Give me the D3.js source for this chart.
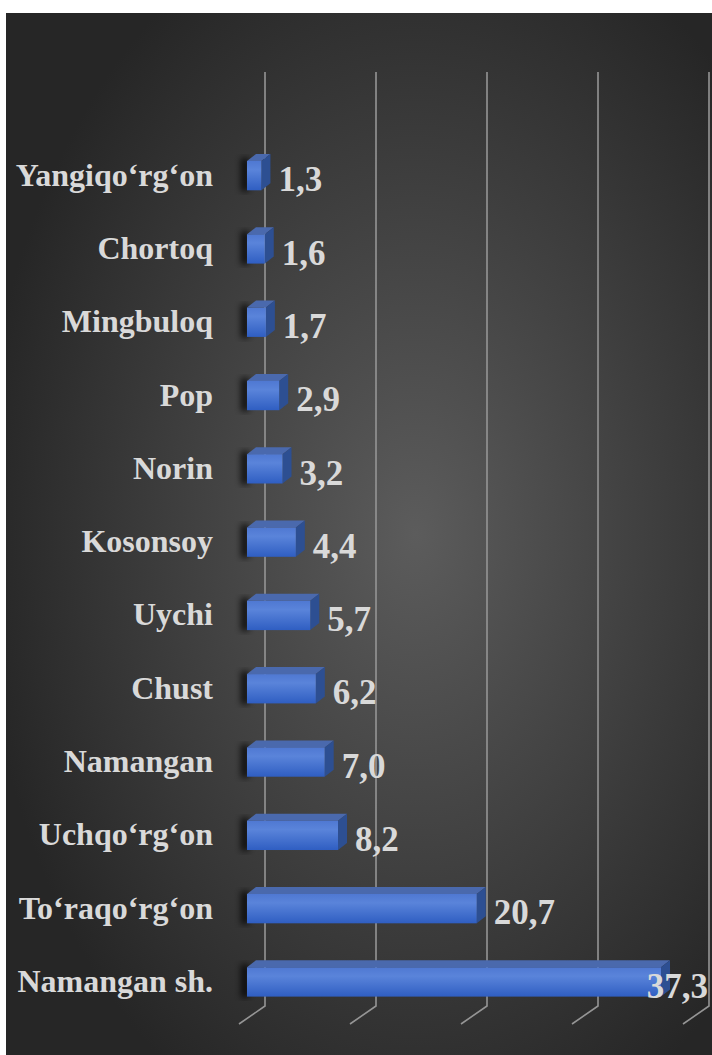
<!DOCTYPE html>
<html>
<head>
<meta charset="utf-8">
<script src="https://cdn.jsdelivr.net/npm/d3@7"></script>
<style>
  body { margin: 0; background: #fff; }
</style>
</head>
<body>
<div id="chart-area"></div>
<script>
// Data
const districts = ["Yangiqo‘rg‘on", "Chortoq", "Mingbuloq", "Pop", "Norin", "Kosonsoy",
    "Uychi", "Chust", "Namangan", "Uchqo‘rg‘on", "To‘raqo‘rg‘on", "Namangan sh."]
const shares = [1.3, 1.6, 1.7, 2.9, 3.2, 4.4, 5.7, 6.2, 7.0, 8.2, 20.7, 37.3]
const gridTicks = [0, 10, 20, 30, 40]

const W = 712, H = 1055
const frontX = 247          // front face of bars
const backX = 265           // back wall where gridlines stand
const depth = {dx: 9, dy: -7}
const floorY = 1006
const serif = '"Liberation Serif"'

const svg = d3.select("#chart-area").append("svg")
    .attr("width", W)
    .attr("height", H)

const defs = svg.append("defs")

const bg = defs.append("radialGradient")
    .attr("id", "bg")
    .attr("cx", "58%").attr("cy", "50%").attr("r", "62%")
bg.append("stop").attr("offset", "0%").attr("stop-color", "#5c5c5c")
bg.append("stop").attr("offset", "100%").attr("stop-color", "#262626")

const front = defs.append("linearGradient")
    .attr("id", "front")
    .attr("x1", 0).attr("y1", 0).attr("x2", 0).attr("y2", 1)
front.append("stop").attr("offset", "0%").attr("stop-color", "#4f78d2")
front.append("stop").attr("offset", "30%").attr("stop-color", "#5a84da")
front.append("stop").attr("offset", "100%").attr("stop-color", "#2f5ec2")

defs.append("filter")
    .attr("id", "blur")
    .attr("x", "-100%").attr("width", "300%")
    .append("feGaussianBlur")
    .attr("stdDeviation", 3)

svg.append("rect")
    .attr("x", 6).attr("y", 13)
    .attr("width", W - 6).attr("height", H - 13)
    .attr("fill", "url(#bg)")

// Scales
const x = d3.scaleLinear().domain([0, 40]).range([0, 444])
const y = d3.scaleBand()
    .domain(districts)
    .range([117, 1040.6])
    .padding(0.6)
const bw = y.bandwidth()

// Gridlines (back wall + floor)
const grid = svg.append("g")
gridTicks.forEach(t => {
    const gx = backX + x(t)
    grid.append("path")
        .attr("d", `M${gx},72 L${gx},${floorY} L${gx - 26},${floorY + 18}`)
        .attr("fill", "none")
        .attr("stroke", "#959595")
        .attr("stroke-width", 1.6)
})

// Bars
const bars = svg.selectAll(".bar")
    .data(districts)
    .enter().append("g")
    .attr("class", "bar")

// soft shadow on the left
bars.append("rect")
    .attr("x", frontX - 6)
    .attr("y", d => y(d) - 3)
    .attr("width", 8)
    .attr("height", bw + 4)
    .attr("fill", "#000")
    .attr("opacity", 0.75)
    .attr("filter", "url(#blur)")

bars.append("path")
    .attr("d", (d, i) => {
        const x1 = frontX + x(shares[i]), y0 = y(d)
        return `M${frontX},${y0} L${x1},${y0} L${x1 + depth.dx},${y0 + depth.dy} L${frontX + depth.dx},${y0 + depth.dy}Z`
    })
    .attr("fill", "#4a69ad")

bars.append("path")
    .attr("d", (d, i) => {
        const x1 = frontX + x(shares[i]), y0 = y(d)
        return `M${x1},${y0} L${x1 + depth.dx},${y0 + depth.dy} L${x1 + depth.dx},${y0 + depth.dy + bw} L${x1},${y0 + bw}Z`
    })
    .attr("fill", "#2d4f92")

bars.append("rect")
    .attr("x", frontX)
    .attr("y", d => y(d))
    .attr("width", (d, i) => x(shares[i]))
    .attr("height", bw)
    .attr("fill", "url(#front)")

// Category labels
svg.selectAll(".cat")
    .data(districts)
    .enter().append("text")
    .attr("class", "cat")
    .attr("x", 213)
    .attr("y", d => y(d) + bw / 2 + 10)
    .attr("text-anchor", "end")
    .style("font-family", serif)
    .style("font-weight", "bold")
    .style("font-size", "32px")
    .style("fill", "#d9d9d9")
    .text(d => d)

// Value labels
const fmt = v => d3.format(".1f")(v).replace(".", ",")
svg.selectAll(".val")
    .data(districts)
    .enter().append("text")
    .attr("class", "val")
    .attr("x", (d, i) => frontX + x(shares[i]) + 17)
    .attr("y", d => y(d) + bw + 1)
    .style("font-family", serif)
    .style("font-weight", "bold")
    .style("font-size", "35px")
    .style("fill", "#d9d9d9")
    .text((d, i) => fmt(shares[i]))
    .each(function () {
        // keep the label inside the plot
        const len = this.getComputedTextLength()
        const tx = +d3.select(this).attr("x")
        if (tx + len > 708) d3.select(this).attr("x", 708 - len)
    })
</script>
</body>
</html>
